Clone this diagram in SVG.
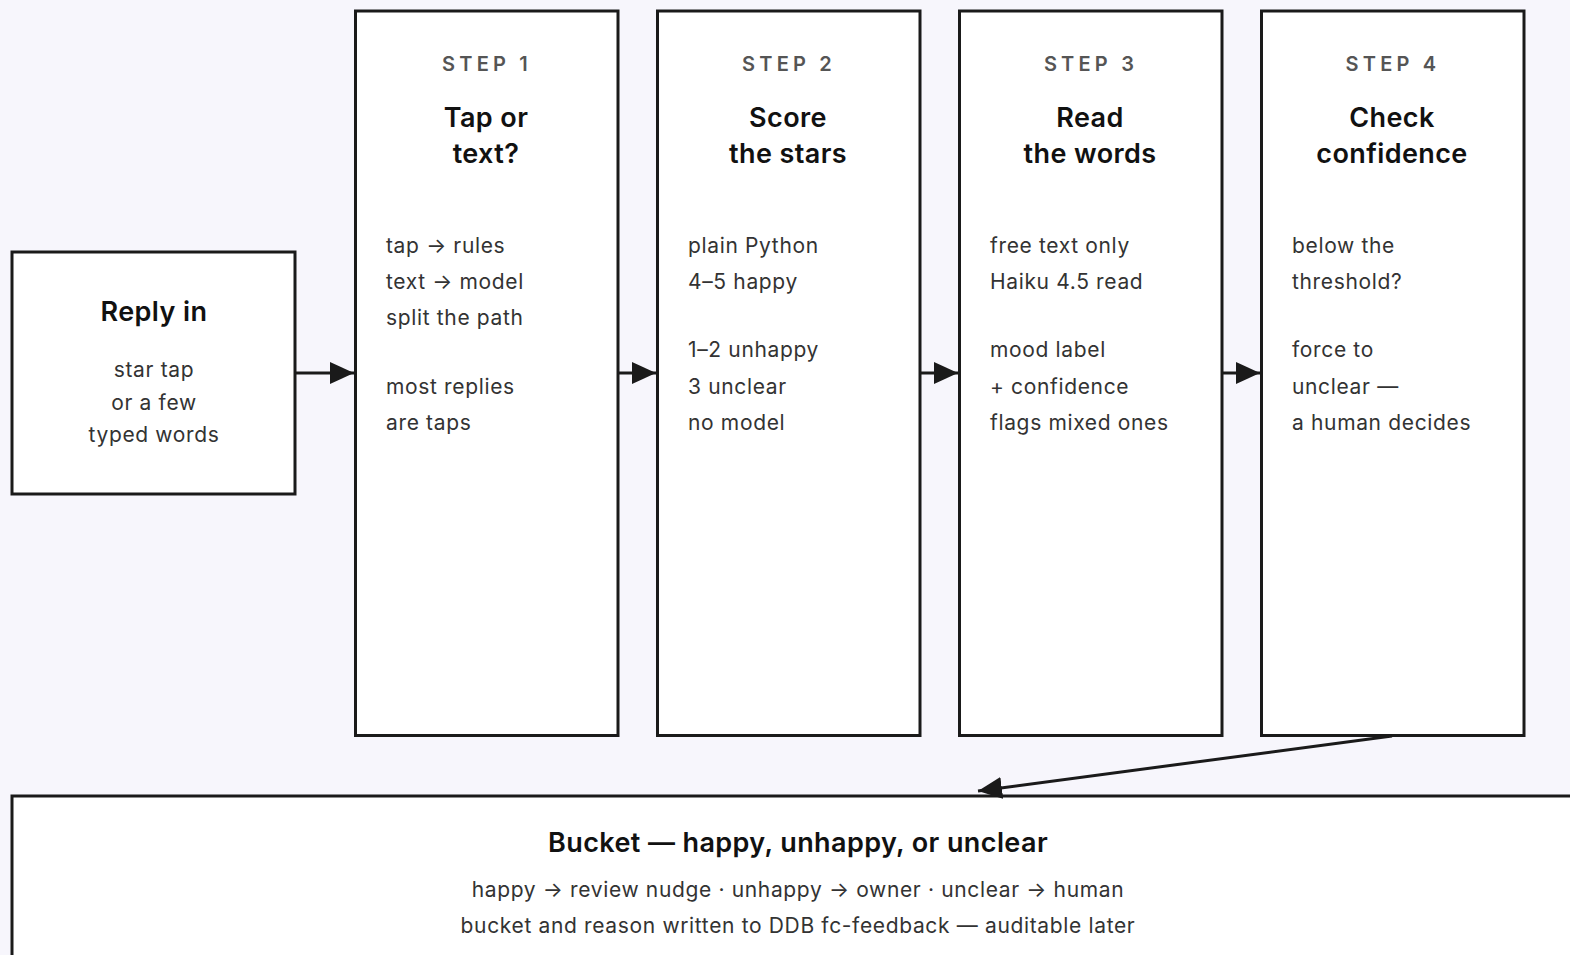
<svg xmlns="http://www.w3.org/2000/svg" width="1570" height="955" viewBox="0 0 1570 955">
<style>
.box{fill:#fff;stroke:#1a1a1a;stroke-width:3}
.step{font-family:Inter,"Liberation Sans",sans-serif;font-size:20px;font-weight:600;fill:#555;letter-spacing:4.2px;text-anchor:middle}
.title{font-family:Inter,"Liberation Sans",sans-serif;font-size:27px;font-weight:600;fill:#111;letter-spacing:0.4px;text-anchor:middle}
.body{font-family:Inter,"Liberation Sans",sans-serif;font-size:21px;fill:#333;letter-spacing:0.65px}
.mid{text-anchor:middle}
.conn{stroke:#1a1a1a;stroke-width:3;fill:none}
</style>
<defs>
<marker id="ah" markerUnits="userSpaceOnUse" markerWidth="26" markerHeight="24" refX="24" refY="12" orient="auto">
<path d="M0,1 L24,12 L0,23 Z" fill="#1a1a1a"/>
</marker>
</defs>
<rect width="1570" height="955" fill="#f7f6fc"/>

<g id="reply">
<rect class="box" x="12" y="252" width="283" height="242"/>
<text class="title" x="154" y="321">Reply in</text>
<text class="body mid" x="154" y="377">star tap</text>
<text class="body mid" x="154" y="410">or a few</text>
<text class="body mid" x="154" y="442">typed words</text>
</g>

<g id="step1">
<rect class="box" x="355.5" y="11" width="262.5" height="724.5"/>
<text class="step" x="487" y="71">STEP 1</text>
<text class="title" x="486" y="127">Tap or</text>
<text class="title" x="486" y="163">text?</text>
<text class="body" x="386" y="253">tap → rules</text>
<text class="body" x="386" y="289">text → model</text>
<text class="body" x="386" y="325">split the path</text>
<text class="body" x="386" y="394">most replies</text>
<text class="body" x="386" y="430">are taps</text>
</g>

<g id="step2">
<rect class="box" x="657.5" y="11" width="262.5" height="724.5"/>
<text class="step" x="789" y="71">STEP 2</text>
<text class="title" x="788" y="127">Score</text>
<text class="title" x="788" y="163">the stars</text>
<text class="body" x="688" y="253">plain Python</text>
<text class="body" x="688" y="289">4–5 happy</text>
<text class="body" x="688" y="357">1–2 unhappy</text>
<text class="body" x="688" y="394">3 unclear</text>
<text class="body" x="688" y="430">no model</text>
</g>

<g id="step3">
<rect class="box" x="959.5" y="11" width="262.5" height="724.5"/>
<text class="step" x="1091" y="71">STEP 3</text>
<text class="title" x="1090" y="127">Read</text>
<text class="title" x="1090" y="163">the words</text>
<text class="body" x="990" y="253">free text only</text>
<text class="body" x="990" y="289">Haiku 4.5 read</text>
<text class="body" x="990" y="357">mood label</text>
<text class="body" x="990" y="394">+ confidence</text>
<text class="body" x="990" y="430">flags mixed ones</text>
</g>

<g id="step4">
<rect class="box" x="1261.5" y="11" width="262.5" height="724.5"/>
<text class="step" x="1393" y="71">STEP 4</text>
<text class="title" x="1392" y="127">Check</text>
<text class="title" x="1392" y="163">confidence</text>
<text class="body" x="1292" y="253">below the</text>
<text class="body" x="1292" y="289">threshold?</text>
<text class="body" x="1292" y="357">force to</text>
<text class="body" x="1292" y="394">unclear —</text>
<text class="body" x="1292" y="430">a human decides</text>
</g>

<g id="bucket">
<rect class="box" x="12" y="796" width="1600" height="200"/>
<text class="title" x="798" y="852">Bucket — happy, unhappy, or unclear</text>
<text class="body mid" x="798" y="897">happy → review nudge · unhappy → owner · unclear → human</text>
<text class="body mid" x="798" y="933">bucket and reason written to DDB fc-feedback — auditable later</text>
</g>

<g id="connectors">
<line class="conn" x1="295" y1="373" x2="354" y2="373" marker-end="url(#ah)"/>
<line class="conn" x1="618" y1="373" x2="656" y2="373" marker-end="url(#ah)"/>
<line class="conn" x1="920" y1="373" x2="958" y2="373" marker-end="url(#ah)"/>
<line class="conn" x1="1222" y1="373" x2="1260" y2="373" marker-end="url(#ah)"/>
<line class="conn" x1="1392" y1="736" x2="978" y2="791" marker-end="url(#ah)"/>
</g>
</svg>
